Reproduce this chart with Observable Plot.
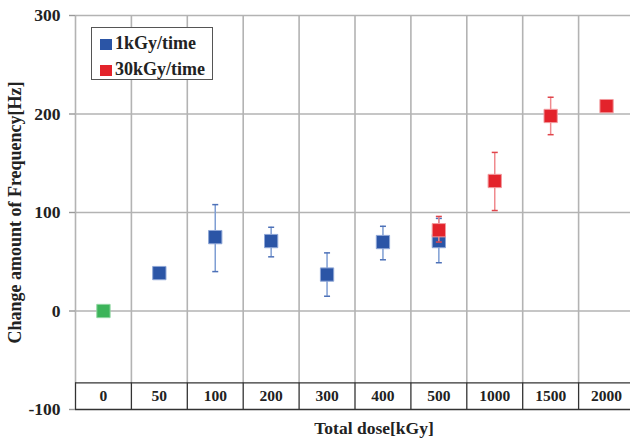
<!DOCTYPE html>
<html>
<head>
<meta charset="utf-8">
<script src="https://cdn.jsdelivr.net/npm/d3@7"></script>
<script src="https://cdn.jsdelivr.net/npm/@observablehq/plot@0.6"></script>
<style>
  html, body { margin: 0; padding: 0; background: #fff; }
  #wrap { position: relative; width: 630px; height: 442px; overflow: hidden; font-family: "Liberation Serif", "Times New Roman", serif; }
  #legend { position: absolute; left: 91px; top: 27px; width: 122px; height: 53px; border: 1px solid #555; background: #fff; box-sizing: border-box; }
  .item { position: absolute; left: 8px; font-size: 18px; font-weight: bold; color: #222; line-height: 17px; white-space: nowrap; }
  .sw { display: inline-block; width: 12px; height: 11px; margin-right: 3px; vertical-align: -1px; }
</style>
</head>
<body>
<div id="wrap">
  <div id="chart"></div>
  <div id="legend"></div>
</div>
<script>
// ---- data ----
const categories = ["0", "50", "100", "200", "300", "400", "500", "1000", "1500", "2000"];
const yTicks = [-100, 0, 100, 200, 300];

const greenDose = ["0"];
const greenMean = [0];

const blueDose = ["50", "100", "200", "300", "400", "500"];
const blueMean = [38.5, 75, 71, 37, 70, 71];
const blueLow  = [null, 40, 55, 15, 52, 49];
const blueHigh = [null, 108, 85, 59, 86, 94];

const redDose = ["500", "1000", "1500", "2000"];
const redMean = [82, 132, 198, 208];
const redLow  = [70, 102, 179, null];
const redHigh = [96, 161, 217, null];

const seriesNames = ["1kGy/time", "30kGy/time"];
const xTitle = "Total dose[kGy]";
const yTitle = "Change amount of Frequency[Hz]";

// ---- build tables ----
const pos = c => categories.indexOf(c) + 0.5;
const mk = (dose, mean, lo, hi) => dose.map((d, i) => ({x: pos(d), y: mean[i], lo: lo ? lo[i] : null, hi: hi ? hi[i] : null}));
const green = mk(greenDose, greenMean);
const blue = mk(blueDose, blueMean, blueLow, blueHigh);
const red = mk(redDose, redMean, redLow, redHigh);
const blueErr = blue.filter(d => d.lo != null);
const redErr = red.filter(d => d.lo != null);
const catRows = categories.map((c, i) => ({label: c, x: i + 0.5}));
const edges = d3.range(categories.length + 1);

const tableTop = -73;
const tableMid = -86.5;

const capSymbol = { draw(ctx) { ctx.moveTo(-3, 0); ctx.lineTo(3, 0); } };

const FONT = '"Liberation Serif", "Times New Roman", serif';
const COL = {blue: "#2b55a6", red: "#e3232b", green: "#3cb45a"};

const grid = "#b3b3b3";

const chart = Plot.plot({
  width: 630,
  height: 442,
  marginLeft: 75,
  marginRight: 0,
  marginTop: 15,
  marginBottom: 33,
  style: {fontFamily: FONT, background: "#fff", overflow: "visible"},
  x: {domain: [0, categories.length], range: [75, 634], axis: null},
  y: {domain: [-100, 300], range: [409, 15], axis: null},
  marks: [
    // horizontal gridlines
    Plot.ruleY(yTicks.filter(v => v > -100), {stroke: grid, strokeWidth: 1.6}),
    // vertical gridlines above the table
    Plot.ruleX(edges, {x: d => d, y1: tableTop, y2: 300, stroke: grid, strokeWidth: 1.6}),
    // y-axis ticks and labels
    Plot.axisY(yTicks, {tickSize: 6, tickPadding: 9, stroke: "#999", strokeWidth: 1.4, fontSize: 17.5, fontWeight: "bold", fill: "#222", tickFormat: d => String(d), label: null}),
    // table with category labels
    Plot.ruleY([tableTop, -100], {x1: 0, x2: categories.length, stroke: "#333", strokeWidth: 1.3}),
    Plot.ruleX(edges, {x: d => d, y1: -100, y2: tableTop, stroke: "#333", strokeWidth: 1.3}),
    Plot.text(catRows, {x: "x", y: tableMid, text: "label", fontSize: 15.5, fontWeight: "bold", fill: "#222"}),
    // axis titles
    Plot.text([xTitle], {frameAnchor: "bottom", dx: 21, dy: 24, fontSize: 17.5, fontWeight: "bold", fill: "#222"}),
    Plot.text([yTitle], {frameAnchor: "left", textAnchor: "middle", rotate: -90, dx: -60, fontSize: 18, fontWeight: "bold", fill: "#222"}),
    // green
    Plot.dot(green, {x: "x", y: "y", symbol: "square", r: 7.5, fill: COL.green, stroke: "#8fd6a0", strokeWidth: 1}),
    // blue series
    Plot.ruleX(blueErr, {x: "x", y1: "lo", y2: "hi", stroke: "#7f9ed3", strokeWidth: 1.5}),
    Plot.dot(blueErr, {x: "x", y: "lo", symbol: capSymbol, stroke: "#4d71b8", strokeWidth: 1.5}),
    Plot.dot(blueErr, {x: "x", y: "hi", symbol: capSymbol, stroke: "#4d71b8", strokeWidth: 1.5}),
    Plot.dot(blue, {x: "x", y: "y", symbol: "square", r: 7.5, fill: COL.blue, stroke: "#8ea6d6", strokeWidth: 1}),
    // red series
    Plot.ruleX(redErr, {x: "x", y1: "lo", y2: "hi", stroke: "#f08a8e", strokeWidth: 1.5}),
    Plot.dot(redErr, {x: "x", y: "lo", symbol: capSymbol, stroke: "#e0454b", strokeWidth: 1.5}),
    Plot.dot(redErr, {x: "x", y: "hi", symbol: capSymbol, stroke: "#e0454b", strokeWidth: 1.5}),
    Plot.dot(red, {x: "x", y: "y", symbol: "square", r: 7.5, fill: COL.red, stroke: "#f29a9e", strokeWidth: 1})
  ]
});
document.getElementById("chart").appendChild(chart);

// legend
const legend = document.getElementById("legend");
[[seriesNames[0], COL.blue], [seriesNames[1], COL.red]].forEach(([name, c], i) => {
  const el = document.createElement("div");
  el.className = "item";
  el.style.top = (7 + i * 26) + "px";
  el.innerHTML = `<span class="sw" style="background:${c}"></span>${name}`;
  legend.appendChild(el);
});
</script>
</body>
</html>
